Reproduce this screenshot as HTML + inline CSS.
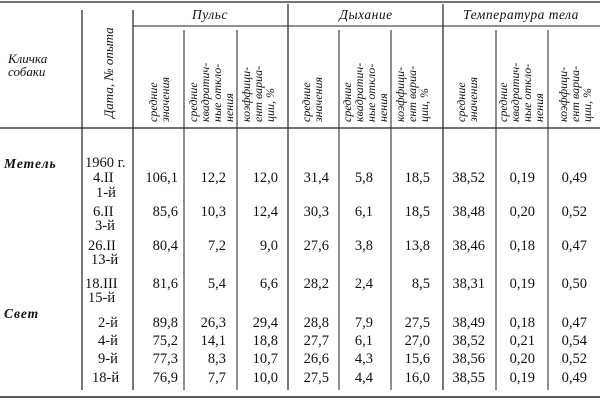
<!DOCTYPE html>
<html><head><meta charset="utf-8"><style>
html,body{margin:0;padding:0;background:#fff}
svg{display:block}
text{font-family:"Liberation Serif","DejaVu Serif",serif;fill:#111}
.n{font-size:14.5px;text-anchor:end}
.h{font-size:12px;font-style:italic}
.g{font-size:13.5px;font-style:italic;text-anchor:middle;letter-spacing:0.5px}
.d{font-size:14.5px}
</style></head><body>
<svg width="600" height="407" viewBox="0 0 600 407">
<g stroke="#222" fill="none">
<line x1="0" y1="2" x2="600" y2="2" stroke-width="1.2"/>
<line x1="133" y1="26" x2="288" y2="26" stroke-width="1"/>
<line x1="288" y1="26" x2="443" y2="26" stroke-width="1"/>
<line x1="443" y1="26" x2="600" y2="26" stroke-width="1"/>
<line x1="0" y1="128" x2="600" y2="128" stroke-width="1.2"/>
<line x1="0" y1="397" x2="600" y2="397" stroke-width="1.5"/>
<line x1="82" y1="10" x2="82" y2="390" stroke-width="1.2"/>
<line x1="133" y1="10" x2="133" y2="390" stroke-width="1.2"/>
<line x1="184" y1="30" x2="184" y2="390" stroke-width="1"/>
<line x1="237" y1="30" x2="237" y2="390" stroke-width="1"/>
<line x1="288" y1="4" x2="288" y2="390" stroke-width="1.2"/>
<line x1="339" y1="30" x2="339" y2="390" stroke-width="1"/>
<line x1="391" y1="30" x2="391" y2="390" stroke-width="1"/>
<line x1="443" y1="4" x2="443" y2="390" stroke-width="1.2"/>
<line x1="496" y1="30" x2="496" y2="390" stroke-width="1"/>
<line x1="548" y1="30" x2="548" y2="390" stroke-width="1"/>
</g>
<text class="g" x="210" y="19">Пульс</text>
<text class="g" x="366" y="19">Дыхание</text>
<text class="g" x="521" y="19">Температура тела</text>
<text class="h" x="8" y="63" style="font-size:13px">Кличка</text>
<text class="h" x="8" y="76" style="font-size:13px">собаки</text>
<text class="h" transform="translate(113,118) rotate(-90)" style="font-size:13px">Дата, № опыта</text>
<g class="h">
<g transform="translate(157,122) rotate(-90)"><text x="0" y="0">средние</text><text x="0" y="12">значения</text></g>
<g transform="translate(197,122) rotate(-90)"><text x="0" y="0">средние</text><text x="0" y="12">квадратич-</text><text x="0" y="24">ные откло-</text><text x="0" y="36">нения</text></g>
<g transform="translate(250,122) rotate(-90)"><text x="0" y="0">коэффици-</text><text x="0" y="12">ент вариа-</text><text x="0" y="24">ции, %</text></g>
<g transform="translate(310,122) rotate(-90)"><text x="0" y="0">средние</text><text x="0" y="12">значения</text></g>
<g transform="translate(351,122) rotate(-90)"><text x="0" y="0">средние</text><text x="0" y="12">квадратич-</text><text x="0" y="24">ные откло-</text><text x="0" y="36">нения</text></g>
<g transform="translate(404,122) rotate(-90)"><text x="0" y="0">коэффици-</text><text x="0" y="12">ент вариа-</text><text x="0" y="24">ции, %</text></g>
<g transform="translate(465,122) rotate(-90)"><text x="0" y="0">средние</text><text x="0" y="12">значения</text></g>
<g transform="translate(507,122) rotate(-90)"><text x="0" y="0">средние</text><text x="0" y="12">квадратич-</text><text x="0" y="24">ные откло-</text><text x="0" y="36">нения</text></g>
<g transform="translate(567,122) rotate(-90)"><text x="0" y="0">коэффици-</text><text x="0" y="12">ент вариа-</text><text x="0" y="24">ции, %</text></g>
</g>
<text class="h" x="4" y="168" style="font-size:13.5px;font-weight:bold;letter-spacing:1px">Метель</text>
<text class="h" x="4" y="318" style="font-size:13.5px;font-weight:bold;letter-spacing:1px">Свет</text>
<g class="d">
<text x="85" y="167">1960 г.</text>
<text x="93" y="182">4.II</text>
<text x="96" y="197">1-й</text>
<text x="93" y="216">6.II</text>
<text x="95" y="230">3-й</text>
<text x="88" y="250">26.II</text>
<text x="91" y="264">13-й</text>
<text x="85" y="288">18.III</text>
<text x="88" y="302">15-й</text>
<text x="98" y="327">2-й</text>
<text x="98" y="345">4-й</text>
<text x="98" y="363">9-й</text>
<text x="92" y="382">18-й</text>
</g>
<g class="n">
<text x="178" y="182">106,1</text><text x="226" y="182">12,2</text><text x="278" y="182">12,0</text><text x="329" y="182">31,4</text><text x="373" y="182">5,8</text><text x="430" y="182">18,5</text><text x="485" y="182">38,52</text><text x="535" y="182">0,19</text><text x="587" y="182">0,49</text>
<text x="178" y="216">85,6</text><text x="226" y="216">10,3</text><text x="278" y="216">12,4</text><text x="329" y="216">30,3</text><text x="373" y="216">6,1</text><text x="430" y="216">18,5</text><text x="485" y="216">38,48</text><text x="535" y="216">0,20</text><text x="587" y="216">0,52</text>
<text x="178" y="250">80,4</text><text x="226" y="250">7,2</text><text x="278" y="250">9,0</text><text x="329" y="250">27,6</text><text x="373" y="250">3,8</text><text x="430" y="250">13,8</text><text x="485" y="250">38,46</text><text x="535" y="250">0,18</text><text x="587" y="250">0,47</text>
<text x="178" y="288">81,6</text><text x="226" y="288">5,4</text><text x="278" y="288">6,6</text><text x="329" y="288">28,2</text><text x="373" y="288">2,4</text><text x="430" y="288">8,5</text><text x="485" y="288">38,31</text><text x="535" y="288">0,19</text><text x="587" y="288">0,50</text>
<text x="178" y="327">89,8</text><text x="226" y="327">26,3</text><text x="278" y="327">29,4</text><text x="329" y="327">28,8</text><text x="373" y="327">7,9</text><text x="430" y="327">27,5</text><text x="485" y="327">38,49</text><text x="535" y="327">0,18</text><text x="587" y="327">0,47</text>
<text x="178" y="345">75,2</text><text x="226" y="345">14,1</text><text x="278" y="345">18,8</text><text x="329" y="345">27,7</text><text x="373" y="345">6,1</text><text x="430" y="345">27,0</text><text x="485" y="345">38,52</text><text x="535" y="345">0,21</text><text x="587" y="345">0,54</text>
<text x="178" y="363">77,3</text><text x="226" y="363">8,3</text><text x="278" y="363">10,7</text><text x="329" y="363">26,6</text><text x="373" y="363">4,3</text><text x="430" y="363">15,6</text><text x="485" y="363">38,56</text><text x="535" y="363">0,20</text><text x="587" y="363">0,52</text>
<text x="178" y="382">76,9</text><text x="226" y="382">7,7</text><text x="278" y="382">10,0</text><text x="329" y="382">27,5</text><text x="373" y="382">4,4</text><text x="430" y="382">16,0</text><text x="485" y="382">38,55</text><text x="535" y="382">0,19</text><text x="587" y="382">0,49</text>
</g>
</svg>
</body></html>
